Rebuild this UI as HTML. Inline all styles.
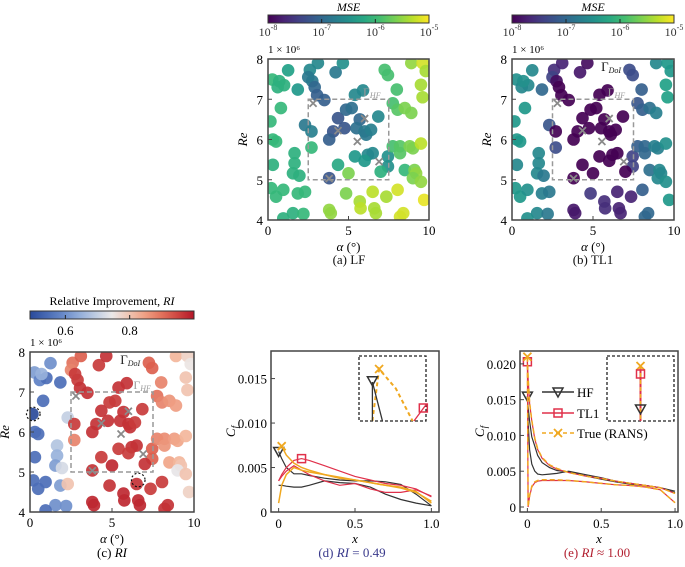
<!DOCTYPE html>
<html><head><meta charset="utf-8"><style>
body{margin:0;background:#fff;}
svg{display:block;font-family:"Liberation Serif",serif;}
</style></head><body>
<svg id="fig" width="685" height="567" viewBox="0 0 685 567"></svg>
<script>
// ---- scatter data (shared design points) ----
const alpha=[1.25,0.27,0.6,1.0,1.85,2.6,2.5,2.75,3.1,2.9,3.05,3.5,4.2,4.65,5.4,5.9,7.25,7.45,8.0,8.9,9.6,9.8,9.5,9.6,0.8,0.15,0.3,0.5,2.3,2.7,2.7,4.35,4.75,4.05,3.8,4.85,5.2,5.7,5.5,6.0,6.1,6.4,6.85,6.5,6.2,6.0,5.4,4.35,5.0,4.85,3.8,7.45,7.45,7.0,7.75,8.05,8.5,8.9,7.75,8.2,8.2,8.8,9.0,9.5,8.5,9.1,9.2,9.0,9.5,9.7,0.3,1.65,1.65,1.55,1.95,0.2,0.5,0.95,1.85,2.3,1.55,2.2,0.95,3.8,3.9,5.7,5.75,6.5,6.6,6.7,7.35,8.05,8.4,8.2,0.7];
const re=[7.72,7.49,7.3,7.35,7.24,7.73,7.55,7.45,7.9,7.3,7.1,6.98,7.67,7.9,7.11,7.22,7.73,7.6,7.24,7.9,7.9,7.7,7.36,7.05,6.78,6.45,6.0,5.95,6.36,6.2,5.8,6.53,6.28,6.2,6.0,6.74,6.78,6.5,6.28,6.2,6.12,6.24,6.57,5.66,5.62,5.47,5.58,5.37,5.16,4.66,5.04,5.58,5.33,5.2,6.9,6.74,6.78,6.66,5.83,5.83,5.66,5.83,5.78,5.9,5.24,5.24,5.16,5.04,4.95,4.5,5.37,5.66,5.41,5.16,5.1,4.79,4.58,4.75,4.66,4.7,4.17,4.15,4.04,4.25,4.17,4.46,4.29,4.7,4.29,4.17,4.58,4.75,4.17,4.08,7.45];
const lfMse=[-6.3,-6.0,-6.1,-6.1,-6.4,-6.6,-6.8,-6.8,-6.6,-7.0,-7.1,-7.1,-6.8,-6.5,-6.6,-6.6,-5.9,-5.9,-5.9,-5.5,-5.2,-5.4,-5.4,-5.4,-6.0,-6.0,-6.0,-6.0,-6.8,-6.7,-6.0,-7.2,-7.2,-7.2,-7.1,-7.0,-6.9,-7.0,-6.9,-6.8,-6.8,-6.7,-6.6,-6.6,-6.6,-6.4,-6.4,-6.2,-5.6,-5.6,-7.2,-6.5,-6.5,-6.1,-5.9,-5.8,-5.6,-5.6,-5.9,-5.8,-5.8,-5.6,-5.6,-5.3,-6.0,-5.6,-5.5,-5.6,-5.5,-5.1,-6.1,-6.1,-6.1,-6.1,-6.1,-6.0,-6.0,-6.0,-6.0,-6.0,-6.1,-6.0,-6.1,-5.5,-5.5,-5.4,-5.3,-5.3,-5.4,-5.4,-5.4,-5.2,-5.2,-5.2,-6.1];
const tlMse=[-6.6,-6.5,-6.6,-6.6,-7.0,-7.6,-7.4,-7.9,-7.7,-8.0,-8.0,-8.0,-7.8,-7.9,-8.0,-8.0,-7.3,-7.3,-7.1,-6.6,-6.4,-6.4,-6.3,-6.3,-6.4,-6.4,-6.4,-6.4,-7.2,-8.0,-7.3,-8.0,-8.0,-8.0,-8.0,-8.0,-8.0,-8.0,-8.0,-8.0,-8.0,-8.0,-8.0,-8.0,-8.0,-8.0,-8.0,-8.0,-8.0,-7.5,-8.0,-7.4,-7.4,-8.0,-7.2,-7.1,-6.9,-6.7,-7.1,-7.0,-7.0,-6.7,-6.7,-6.5,-6.9,-6.6,-6.6,-6.6,-6.5,-6.4,-6.6,-6.6,-6.6,-6.6,-6.8,-6.4,-6.4,-6.5,-6.7,-6.8,-6.6,-6.8,-6.5,-7.8,-7.8,-7.6,-7.6,-7.7,-7.7,-7.7,-7.7,-7.1,-7.0,-7.0,-6.5];
const ri=[0.6,0.62,0.58,0.55,0.55,0.9,0.88,0.96,0.92,0.96,0.97,0.97,0.96,0.97,0.97,0.97,0.92,0.92,0.88,0.82,0.78,0.75,0.8,0.8,0.55,0.49,0.55,0.55,0.7,0.96,0.88,0.97,0.97,0.97,0.97,0.96,0.96,0.97,0.97,0.97,0.97,0.96,0.96,0.97,0.97,0.96,0.96,0.96,0.98,0.97,0.97,0.92,0.92,0.97,0.9,0.88,0.86,0.85,0.88,0.87,0.86,0.85,0.84,0.82,0.84,0.82,0.8,0.74,0.8,0.78,0.55,0.68,0.65,0.62,0.72,0.55,0.55,0.55,0.62,0.8,0.6,0.6,0.55,0.98,0.98,0.98,0.98,0.97,0.98,0.98,0.96,0.96,0.97,0.97,0.65];
const hfAlpha=[2.8,4.35,6.0,5.55,6.9,3.8];
const hfRe=[6.9,6.22,6.52,5.95,5.45,5.03];
const xTicksA=[0,5,10];
const yTicksRe=[4,5,6,7,8];
// ---- Cf data (d) ----
const dX=[0,0.02,0.05,0.1,0.15,0.2,0.3,0.4,0.5,0.6,0.7,0.8,0.9,1.0];
const dHF1=[0.0068,0.006,0.005,0.0043,0.0043,0.0041,0.0038,0.0036,0.0035,0.0035,0.0034,0.0031,0.002,0.0007];
const dHF2=[0.003,0.003,0.0029,0.0028,0.0028,0.003,0.0035,0.0033,0.0032,0.0028,0.002,0.0014,0.001,0.0007];
const dTL1=[0.0035,0.0042,0.005,0.0058,0.006,0.0058,0.0052,0.0046,0.004,0.0036,0.0032,0.003,0.0026,0.0017];
const dTL2=[0.0035,0.004,0.0046,0.0052,0.0047,0.0042,0.0035,0.003,0.0032,0.0026,0.0022,0.0022,0.0025,0.0018];
const dTr1=[0.0072,0.0074,0.0064,0.0055,0.005,0.0047,0.0042,0.0038,0.0036,0.0033,0.003,0.0028,0.0023,0.001];
const dTr2=[0.001,0.003,0.0042,0.005,0.0047,0.0045,0.0042,0.0039,0.0036,0.0033,0.003,0.0027,0.0022,0.0012];
// ---- Cf data (e) ----
const eX=[0,0.005,0.015,0.03,0.05,0.07,0.1,0.15,0.2,0.28,0.4,0.5,0.6,0.7,0.8,0.9,1.0];
const eHF1=[0.0155,0.012,0.008,0.006,0.005,0.0046,0.0045,0.0046,0.0047,0.005,0.0045,0.0041,0.0036,0.0033,0.003,0.0027,0.0022];
const eHF2=[0.0155,0.014,0.012,0.0098,0.0085,0.0072,0.0062,0.0055,0.0051,0.0049,0.0043,0.0039,0.0035,0.0032,0.003,0.0027,0.002];
const eTL1=[0.0203,0.018,0.0145,0.012,0.0095,0.008,0.0068,0.0058,0.0053,0.0048,0.0043,0.004,0.0036,0.0033,0.003,0.0027,0.0019];
const eTL2=[0.0203,0.0,0.0015,0.0028,0.0034,0.0036,0.0037,0.0037,0.0037,0.0037,0.0035,0.0033,0.0031,0.003,0.0028,0.0024,0.0006];
const eTr1=[0.021,0.0182,0.0146,0.0121,0.0096,0.0081,0.0069,0.0059,0.0054,0.0048,0.0043,0.004,0.0036,0.0033,0.003,0.0027,0.0019];
const eTr2=[0.021,0.0,0.0016,0.0029,0.0035,0.0037,0.0038,0.0038,0.0038,0.0037,0.0035,0.0033,0.0031,0.003,0.0028,0.0024,0.0006];
const cfTicksD=[0,0.005,0.010,0.015];
const cfTicksE=[0,0.005,0.010,0.015,0.020];
const xTicksCf=[0,0.5,1.0];

const NS="http://www.w3.org/2000/svg";
const svg=document.getElementById('fig');
function mk(tag,attrs,parent,text){const e=document.createElementNS(NS,tag);for(const k in attrs)e.setAttribute(k,attrs[k]);if(text!==undefined)e.textContent=text;(parent||svg).appendChild(e);return e;}
function lerpC(stops,t){t=Math.max(0,Math.min(1,t));const n=stops.length-1;const i=Math.min(n-1,Math.floor(t*n));const f=t*n-i;const a=stops[i],b=stops[i+1];return 'rgb('+[0,1,2].map(k=>Math.round(a[k]+(b[k]-a[k])*f)).join(',')+')';}
const VIR=[[68,1,84],[72,40,120],[62,74,137],[49,104,142],[38,130,142],[31,158,137],[53,183,121],[110,206,88],[181,222,43],[253,231,37]];
const RDBU=[[42,74,154],[90,125,195],[160,185,222],[235,232,232],[244,175,145],[222,100,80],[180,22,40]];
function vir(t){return lerpC(VIR,t);}
function rdbu(t){return lerpC(RDBU,t);}

function scatterPanel(name,L,T,W,H,vals,cfun,vmin,vmax){
  const g=mk('g',{});
  
  
  const sx=a=>L+a/10*W, sy=r=>T+(8-r)/4*H;
  const clip='clip-'+name;
  const cp=mk('clipPath',{id:clip},g);mk('rect',{x:L,y:T,width:W,height:H},cp);
  const pg=mk('g',{'clip-path':'url(#'+clip+')'},g);
  for(let i=0;i<alpha.length;i++){
    const c=mk('circle',{cx:sx(alpha[i]),cy:sy(re[i]),r:6.3,fill:cfun((vals[i]-vmin)/(vmax-vmin)),'fill-opacity':0.92},pg);
    
    
  }
  const box=mk('rect',{x:sx(2.5),y:sy(7),width:sx(7.5)-sx(2.5),height:sy(5)-sy(7),fill:'none',stroke:'#999','stroke-width':1.5,'stroke-dasharray':'5,3'},g);
  
  
  for(let i=0;i<hfAlpha.length;i++){
    const x=sx(hfAlpha[i]),y=sy(hfRe[i]);
    const m=mk('path',{d:`M${x-3.5},${y-3.5}L${x+3.5},${y+3.5}M${x-3.5},${y+3.5}L${x+3.5},${y-3.5}`,stroke:'#8a8a8a','stroke-width':1.8},g);
    
    
  }
  mk('rect',{x:L,y:T,width:W,height:H,fill:'none',stroke:'#444','stroke-width':1.5},g);
  xTicksA.forEach(v=>{mk('line',{x1:sx(v),x2:sx(v),y1:T+H,y2:T+H-4,stroke:'#444'},g);mk('text',{x:sx(v),y:T+H+15,'text-anchor':'middle','font-size':13},g,v);});
  yTicksRe.forEach(v=>{mk('line',{x1:L,x2:L+4,y1:sy(v),y2:sy(v),stroke:'#444'},g);mk('text',{x:L-5,y:sy(v)+5,'text-anchor':'end','font-size':13},g,v);});
  mk('text',{x:L,y:T-6,'font-size':11},g,'1 × 10⁶');
  const xl=mk('text',{x:L+W/2,y:T+H+31,'text-anchor':'middle','font-size':13},g);xl.innerHTML='<tspan font-style="italic">α</tspan> (°)';
  mk('text',{x:L-25,y:T+H/2+4,'text-anchor':'middle','font-size':13,'font-style':'italic',transform:`rotate(-90 ${L-25} ${T+H/2})`},g,'Re');
  return {g,sx,sy};
}
function gammaLabel(g,x,y,sub,col,sz){const t=mk('text',{x,y,'font-size':sz||12,fill:col},g);t.innerHTML='Γ<tspan font-size="8" dy="2" font-style="italic">'+sub+'</tspan>';return t;}

function mseBar(L,T,W,name){
  const g=mk('g',{});
  const id='grad'+name;const lg=mk('linearGradient',{id},g);
  for(let i=0;i<=10;i++)mk('stop',{offset:(i*10)+'%','stop-color':vir(i/10)},lg);
  mk('rect',{x:L,y:T,width:W,height:8,fill:'url(#'+id+')',stroke:'#333','stroke-width':1},g);
  mk('text',{x:L+W/2,y:T-4,'text-anchor':'middle','font-size':12,'font-style':'italic'},g,'MSE');
  [-8,-7,-6,-5].forEach((p,i)=>{const x=L+i*W/3;if(i>0&&i<3)mk('line',{x1:x,x2:x,y1:T+8,y2:T+4,stroke:'#222'},g);
    const t=mk('text',{x:x,y:T+21,'text-anchor':'middle','font-size':12,fill:'#333'},g);t.innerHTML='10<tspan font-size="8" dy="-6">'+p+'</tspan>';});
}
mseBar(268,15,161,'mse-colorbar-a');
mseBar(512,15,162,'mse-colorbar-b');
const pa=scatterPanel('scatter-lf',268,59,161,161,lfMse,vir,-8,-5);
gammaLabel(pa.g,pa.sx(5.9),pa.sy(7.08),'HF','#999');
const pb=scatterPanel('scatter-tl1',512,59,162,161,tlMse,vir,-8,-5);
gammaLabel(pb.g,pb.sx(5.9),pb.sy(7.08),'HF','#999');
gammaLabel(pb.g,pb.sx(5.5),pb.sy(7.7),'DoI','#111',13);
// RI colorbar
(function(){const g=mk('g',{});
 const L=30,W=164,T=311;const lg=mk('linearGradient',{id:'gradri'},g);
 for(let i=0;i<=10;i++)mk('stop',{offset:(i*10)+'%','stop-color':rdbu(i/10)},lg);
 mk('rect',{x:L,y:T,width:W,height:8,fill:'url(#gradri)',stroke:'#333'},g);
 const t=mk('text',{x:L+W/2,y:T-6,'text-anchor':'middle','font-size':12},g);t.innerHTML='Relative Improvement, <tspan font-style="italic">RI</tspan>';
 [0.6,0.8].forEach(v=>{const x=L+(v-0.49)/(1.0-0.49)*W;mk('line',{x1:x,x2:x,y1:T+8,y2:T+4,stroke:'#222'},g);mk('text',{x,y:T+24,'text-anchor':'middle','font-size':13},g,v);});
})();
const pc=scatterPanel('scatter-ri',30,352,164,160,ri,rdbu,0.49,1.0);
gammaLabel(pc.g,pc.sx(6.3),pc.sy(7.08),'HF','#999');
gammaLabel(pc.g,pc.sx(5.5),pc.sy(7.7),'DoI','#222',13);
[[0.2,6.45],[6.6,4.8]].forEach(p=>{const c=mk('circle',{cx:pc.sx(p[0]),cy:pc.sy(p[1]),r:6.8,fill:'none',stroke:'#111','stroke-dasharray':'2,2','stroke-width':1.2},pc.g);});

// Cf panels
function marker(g,type,x,y,col){
  if(type==='tri')mk('path',{d:`M${x-5},${y-4}L${x+5},${y-4}L${x},${y+5}Z`,fill:'none',stroke:col,'stroke-width':1.5},g);
  else if(type==='sq')mk('rect',{x:x-4,y:y-4,width:8,height:8,fill:'none',stroke:col,'stroke-width':1.5},g);
  else mk('path',{d:`M${x-4},${y-4}L${x+4},${y+4}M${x-4},${y+4}L${x+4},${y-4}`,stroke:col,'stroke-width':1.8},g);
}
function cfPanel(name,L,T,W,H,x0,x1,y0,y1,xs,series,yticks,ydec,mkIdx){
  const g=mk('g',{});
  const sx=v=>L+(v-x0)/(x1-x0)*W, sy=v=>T+H-(v-y0)/(y1-y0)*H;
  series.forEach(s=>{
    const d=xs.map((x,i)=>(i?'L':'M')+sx(x).toFixed(1)+','+sy(s.y[i]).toFixed(1)).join('');
    const p=mk('path',{d,fill:'none',stroke:s.c,'stroke-width':s.w||1.2,'stroke-dasharray':s.dash||'none'},g);
    
    if(s.m)marker(g,s.m,sx(xs[s.mi||0]),sy(s.y[s.mi||0]),s.mc||s.c);
  });
  mk('rect',{x:L,y:T,width:W,height:H,fill:'none',stroke:'#444','stroke-width':1.5},g);
  xTicksCf.forEach(v=>{mk('line',{x1:sx(v),x2:sx(v),y1:T+H,y2:T+H-4,stroke:'#444'},g);mk('text',{x:sx(v),y:T+H+16,'text-anchor':'middle','font-size':13},g,v===0?'0':v.toFixed(1));});
  yticks.forEach(v=>{mk('line',{x1:L,x2:L+4,y1:sy(v),y2:sy(v),stroke:'#444'},g);mk('text',{x:L-4,y:sy(v)+5,'text-anchor':'end','font-size':13},g,v===0?'0':v.toFixed(3));});
  mk('text',{x:L+W/2,y:T+H+31,'text-anchor':'middle','font-size':13,'font-style':'italic'},g,'x');
  const yl=mk('text',{x:L-40,y:T+H/2+4,'text-anchor':'middle','font-size':13,'font-style':'italic',transform:`rotate(-90 ${L-40} ${T+H/2})`},g);yl.innerHTML='C<tspan font-size="9" dy="3">f</tspan>';
  return g;
}
const gd=cfPanel('cf-plot-d',271,351,168,161,-0.05,1.05,0,0.0181,dX,[
 {y:dHF1,c:'#333',n:'hf-curve-upper',m:'tri'},{y:dHF2,c:'#333',n:'hf-curve-lower'},
 {y:dTL1,c:'#e0304a',n:'tl1-curve-upper',m:'sq',mi:4},{y:dTL2,c:'#e0304a',n:'tl1-curve-lower'},
 {y:dTr1,c:'#f0a820',n:'true-curve-upper',dash:'none',w:1.5,m:'x',mi:1},{y:dTr2,c:'#f0a820',n:'true-curve-lower',w:1.5}],cfTicksD);
const ge=cfPanel('cf-plot-e',520,351,158,161,-0.05,1.02,-0.0007,0.0218,eX,[
 {y:eHF1,c:'#333',n:'hf-curve-upper',m:'tri'},{y:eHF2,c:'#333',n:'hf-curve-upper-2'},
 {y:eTL1,c:'#e0304a',n:'tl1-curve-upper',m:'sq'},{y:eTL2,c:'#e0304a',n:'tl1-curve-lower'},
 {y:eTr1,c:'#f0a820',n:'true-curve-upper',dash:'5,3',w:1.5,m:'x'},{y:eTr2,c:'#f0a820',n:'true-curve-lower',dash:'5,3',w:1.5}],cfTicksE);
// insets
const insD_x=[0.2,0.3,0.55,0.8,0.95],insD_true=[0.0,0.8,0.5,0.0,0.15],insD_hf=[0.2,0.55,0.7],insD_hfy=[0.0,0.85,0.0];
(function(){const L=359,T=356,W=67,H=65;const g=mk('g',{});
 mk('rect',{x:L,y:T,width:W,height:H,fill:'#fff',stroke:'#222','stroke-dasharray':'3,2','stroke-width':1.3},g);
 const X=v=>L+v*W,Y=v=>T+H-v*H;
 mk('path',{d:'M'+insD_x.slice(0,4).map((x,i)=>X(x)+','+Y(insD_true[i])).join('L'),fill:'none',stroke:'#f0a820','stroke-width':2,'stroke-dasharray':'4,3'},g);
 mk('path',{d:`M${X(0.2)},${Y(0)}L${X(0.2)},${Y(0.6)}`,stroke:'#333','stroke-width':1.3},g);
 mk('path',{d:`M${X(0.2)},${Y(0.6)}L${X(0.35)},${Y(0)}`,stroke:'#333','stroke-width':1.3},g);
 mk('path',{d:`M${X(0.82)},${Y(0)}L${X(1)},${Y(0.25)}`,stroke:'#e0304a','stroke-width':1.3},g);
 marker(g,'tri',X(0.2),Y(0.62),'#333');marker(g,'x',X(0.3),Y(0.8),'#f0a820');marker(g,'sq',X(0.96),Y(0.2),'#e0304a');})();
(function(){const L=607,T=356,W=67,H=65;const g=mk('g',{});
 mk('rect',{x:L,y:T,width:W,height:H,fill:'#fff',stroke:'#222','stroke-dasharray':'3,2','stroke-width':1.3},g);
 const x=L+W*0.5;
 mk('line',{x1:x,x2:x,y1:T+10,y2:T+H,stroke:'#e0304a','stroke-width':2},g);
 mk('line',{x1:x,x2:x,y1:T+10,y2:T+H,stroke:'#f0a820','stroke-width':1.5,'stroke-dasharray':'4,3'},g);
 marker(g,'x',x,T+10,'#f0a820');marker(g,'sq',x,T+18,'#e0304a');marker(g,'tri',x,T+53,'#333');})();
// legend e
(function(){const g=mk('g',{});
 [['HF','#333','tri','none',392],['TL1','#e0304a','sq','none',413],['True (RANS)','#f0a820','x','4,3',433]].forEach(e=>{
  const it=mk('g',{},g);
  mk('line',{x1:542,x2:574,y1:e[4],y2:e[4],stroke:e[1],'stroke-width':1.5,'stroke-dasharray':e[3]},it);
  marker(it,e[2],558,e[4],e[1]);
  mk('text',{x:577,y:e[4]+5,'font-size':13},it,e[0]);});})();
// captions
[['(a) LF',349,264,'#111','caption-a'],['(b) TL1',593,264,'#111','caption-b']].forEach(c=>{const t=mk('text',{x:c[1],y:c[2],'text-anchor':'middle','font-size':13,fill:c[3]},svg,c[0]);});
let t=mk('text',{x:112,y:557,'text-anchor':'middle','font-size':13});t.innerHTML='(c) <tspan font-style="italic">RI</tspan>';
t=mk('text',{x:352,y:557,'text-anchor':'middle','font-size':13,fill:'#3a3a8c'});t.innerHTML='(d) <tspan font-style="italic">RI</tspan> = 0.49';
t=mk('text',{x:597,y:557,'text-anchor':'middle','font-size':13,fill:'#b22030'});t.innerHTML='(e) <tspan font-style="italic">RI</tspan> ≈ 1.00';
</script>
</body></html>
